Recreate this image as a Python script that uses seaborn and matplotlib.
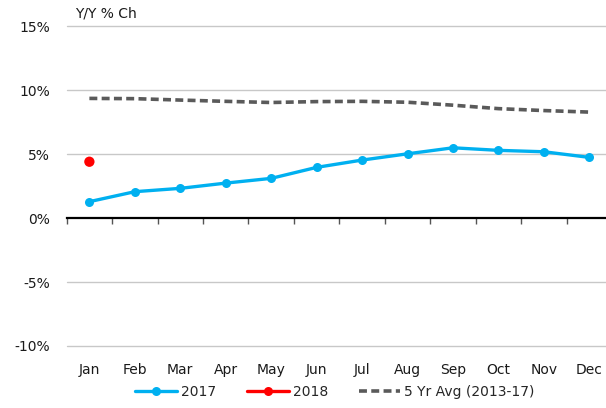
import numpy as np
import pandas as pd
import seaborn as sns
import matplotlib
matplotlib.use("Agg")
import matplotlib.pyplot as plt
from matplotlib.lines import Line2D
from matplotlib.ticker import FuncFormatter

# Monthly year-over-year % change
months = ["Jan", "Feb", "Mar", "Apr", "May", "Jun",
          "Jul", "Aug", "Sep", "Oct", "Nov", "Dec"]
y2017 = [1.28, 2.06, 2.32, 2.73, 3.10, 3.96, 4.53, 5.02, 5.49, 5.29, 5.18, 4.74]
y2018 = [4.40]
avg_5yr = [9.35, 9.33, 9.22, 9.12, 9.03, 9.10, 9.12, 9.05, 8.82, 8.55, 8.40, 8.28]
y_ticks = [-10, -5, 0, 5, 10, 15]

sns.set_theme(style="white")
plt.rcParams["font.family"] = ["DejaVu Sans"]

blue = "#00B0F0"
red = "#FF0000"
gray = "#5A5A5A"

df17 = pd.DataFrame({"m": np.arange(len(y2017)), "v": y2017})
df18 = pd.DataFrame({"m": np.arange(len(y2018)), "v": y2018})
dfavg = pd.DataFrame({"m": np.arange(len(avg_5yr)), "v": avg_5yr})

fig = plt.figure(figsize=(6.06, 4.08), dpi=100)
ax = fig.add_axes([0.110, 0.152, 0.900, 0.784])

for yv in y_ticks:
    if yv != 0:
        ax.axhline(yv, color="#C8C8C8", lw=1.0, zorder=0, clip_on=False)

sns.lineplot(data=dfavg, x="m", y="v", ax=ax, color=gray, lw=2.6,
             dashes=False, linestyle=(0, (2.2, 1.2)), zorder=2)
sns.lineplot(data=df17, x="m", y="v", ax=ax, color=blue, lw=2.4,
             marker="o", markersize=6.5, markeredgewidth=0, zorder=3)
sns.scatterplot(data=df18, x="m", y="v", ax=ax, color=red, s=55,
                edgecolor="none", zorder=4)

ax.set_xlim(-0.5, 11.5)
ax.set_ylim(-10, 15)
ax.set_yticks(y_ticks)
ax.yaxis.set_major_formatter(FuncFormatter(lambda v, p: f"{int(v)}%"))
ax.set_xticks(np.arange(len(months)))
ax.set_xticklabels(months)
ax.tick_params(axis="both", length=0, labelsize=10, colors="#1a1a1a")
ax.tick_params(axis="y", pad=12)
ax.tick_params(axis="x", pad=12)
ax.set_xlabel("")
ax.set_ylabel("")
for s in ax.spines.values():
    s.set_visible(False)

# Zero line with category boundary ticks
zero_pos = (0 - (-10)) / 25
sec = ax.secondary_xaxis(zero_pos)
sec.set_xticks(np.arange(-0.5, 12.0, 1.0))
sec.set_xticklabels([])
sec.tick_params(axis="x", direction="out", length=4, width=1, color="#555555")
sec.spines["bottom"].set_color("black")
sec.spines["bottom"].set_linewidth(1.6)

fig.text(0.124, 0.966, "Y/Y % Ch", fontsize=10, va="center", ha="left",
         color="#1a1a1a")

handles = [
    Line2D([], [], color=blue, lw=2.4, marker="o", markersize=6.5, markeredgewidth=0),
    Line2D([], [], color=red, lw=2.4, marker="o", markersize=6.5, markeredgewidth=0),
    Line2D([], [], color=gray, lw=2.6, linestyle=(0, (2.2, 1.2))),
]
fig.legend(handles, ["2017", "2018", "5 Yr Avg (2013-17)"], loc="center",
           bbox_to_anchor=(0.553, 0.040), ncol=3, frameon=False, fontsize=10,
           handlelength=3.0, columnspacing=2.2, handletextpad=0.3)

fig.savefig("out.png", dpi=100)
